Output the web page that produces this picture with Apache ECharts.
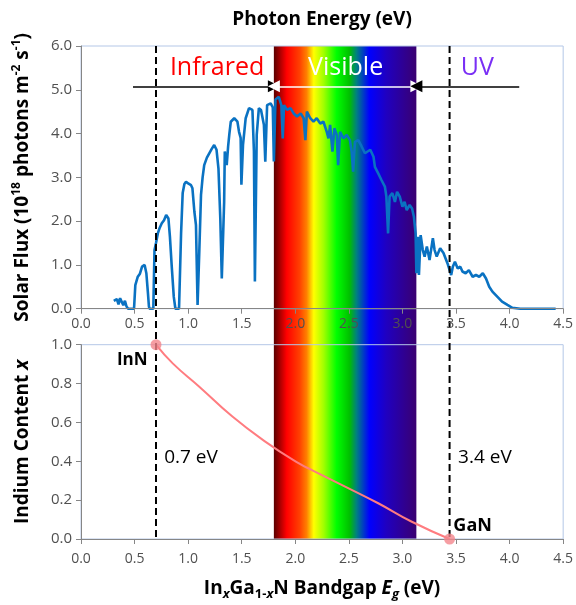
<!DOCTYPE html>
<html><head><meta charset="utf-8">
<script src="https://cdn.jsdelivr.net/npm/echarts@6/dist/echarts.min.js"></script>
<style>html,body{margin:0;padding:0;background:#fff}#c{width:576px;height:605px}</style>
</head><body><div id="c"></div>
<script>
// Solar photon flux spectrum (energy in eV, flux in 1e18 photons m^-2 s^-1)
const fluxE = [0.306,0.32,0.335,0.35,0.365,0.38,0.395,0.41,0.425,0.44,0.495,0.507,0.53,0.55,0.57,0.594,0.61,0.625,0.634,0.64,0.675,0.686,0.70,0.717,0.735,0.754,0.775,0.795,0.816,0.83,0.847,0.866,0.881,0.915,0.934,0.949,0.965,0.98,1.0,1.01,1.027,1.04,1.058,1.073,1.088,1.104,1.12,1.135,1.15,1.175,1.197,1.22,1.243,1.265,1.283,1.3,1.314,1.33,1.336,1.342,1.36,1.373,1.385,1.398,1.43,1.46,1.475,1.49,1.497,1.512,1.537,1.568,1.6,1.614,1.623,1.64,1.66,1.68,1.707,1.72,1.737,1.77,1.79,1.8,1.815,1.846,1.87,1.883,1.895,1.923,1.955,1.985,2.016,2.05,2.078,2.094,2.108,2.14,2.17,2.2,2.233,2.263,2.294,2.31,2.325,2.347,2.365,2.387,2.4,2.418,2.45,2.48,2.51,2.526,2.54,2.557,2.588,2.62,2.65,2.7,2.73,2.743,2.774,2.804,2.836,2.85,2.866,2.88,2.906,2.93,2.95,2.975,3.0,3.02,3.04,3.067,3.09,3.107,3.123,3.13,3.145,3.154,3.17,3.19,3.207,3.228,3.253,3.284,3.3,3.32,3.352,3.383,3.42,3.455,3.47,3.49,3.516,3.54,3.56,3.59,3.62,3.655,3.686,3.717,3.75,3.78,3.81,3.84,3.887,3.93,3.98,4.026,4.1,4.43];
const fluxF = [0.18,0.15,0.22,0.1,0.24,0.2,0.08,0.18,0.05,0,0,0.54,0.73,0.8,0.96,1.0,0.81,0.35,0.05,0,0,1.34,1.5,1.72,1.85,1.95,2.02,2.14,2.06,1.64,0.96,0.27,0,0,1.72,2.64,2.85,2.9,2.86,2.86,2.82,2.75,2.22,1.91,0.085,1.3,2.6,3.0,3.28,3.45,3.55,3.65,3.74,3.63,3.2,2.07,0.69,0.69,2.44,3.59,3.28,3.7,4.0,4.27,4.35,4.27,4.04,3.9,2.83,3.74,4.35,4.58,4.54,3.59,0.62,3.97,4.58,4.54,4.2,3.36,4.65,4.69,4.6,3.36,4.78,4.84,4.65,3.89,4.65,4.54,4.58,4.46,4.39,4.46,4.35,3.85,4.5,4.35,4.27,4.35,4.23,4.27,4.04,3.89,4.2,3.59,4.12,3.97,3.28,4.04,3.89,3.97,3.85,3.59,3.13,3.81,3.85,3.7,3.55,3.63,3.47,3.24,3.09,2.94,2.79,2.56,1.72,2.56,2.64,2.44,2.67,2.56,2.33,2.44,2.25,2.37,2.29,2.1,1.72,0.81,1.64,0.77,1.68,1.34,1.19,1.42,1.11,1.61,1.34,1.19,1.38,1.27,1.04,0.77,0.96,1.07,0.92,0.96,0.85,0.81,0.88,0.73,0.77,0.73,0.81,0.69,0.5,0.39,0.27,0.16,0.085,0.02,0,0];
// InxGa1-xN bandgap vs indium content
const inE = [0.7,0.856,1.104,1.413,1.723,2.03,2.155,2.465,2.774,3.083,3.44];
const inX = [1.0,0.904,0.784,0.63,0.5,0.39,0.355,0.27,0.184,0.09,0];
const endE = [0.7,3.44];
const endX = [1.0,0];
// Annotation values
const bandEdges = [0.7,3.44];
const visibleRange = [1.8,3.13];
const arrowLevel = 5.08;
const irArrowStart = 0.485, uvArrowStart = 4.09;
const xTicks = {min:0,max:4.5,interval:0.5};
const fluxTicks = {min:0,max:6,interval:1};
const inTicks = {min:0,max:1,interval:0.2};

const FF = "'Open Sans', sans-serif";
const fluxData = fluxE.map((e,i)=>[e,fluxF[i]]);
const inData = inE.map((e,i)=>[e,inX[i]]);
const endData = endE.map((e,i)=>[e,endX[i]]);

const axisCommon = {
  axisLine:{show:true,lineStyle:{color:'#868686',width:1}},
  axisTick:{show:true,length:5,lineStyle:{color:'#868686'}},
  splitLine:{show:false},
  z:5
};
const lbl = (m,s)=>({color:'#505050',fontSize:s||14,fontFamily:FF,margin:m,formatter:v=>v.toFixed(1)});

const chart = echarts.init(document.getElementById('c'));
const option = {
  animation:false,
  grid:[
    {left:81,right:10,top:46,height:262.7,show:true,borderColor:'#b4c7e7',borderWidth:1,backgroundColor:'transparent',z:0},
    {left:81,right:10,top:344.7,height:194.3,show:true,borderColor:'#b4c7e7',borderWidth:1,backgroundColor:'transparent',z:0}
  ],
  xAxis:[
    Object.assign({type:'value',gridIndex:0,min:xTicks.min,max:xTicks.max,interval:xTicks.interval,axisLabel:lbl(8)},axisCommon),
    Object.assign({type:'value',gridIndex:1,min:xTicks.min,max:xTicks.max,interval:xTicks.interval,axisLabel:lbl(13),
      name:'{b|In}{si|x}{b|Ga}{s|1-}{si|x}{b|N Bandgap }{bi|E}{si|g}{b| (eV)}',nameLocation:'middle',nameGap:38,
      nameTextStyle:{rich:{
        b:{fontFamily:FF,fontSize:19,fontWeight:'bold',color:'#000',lineHeight:24},
        bi:{fontFamily:FF,fontSize:19,fontWeight:'bold',fontStyle:'italic',color:'#000',lineHeight:24},
        s:{fontFamily:FF,fontSize:13,fontWeight:'bold',color:'#000',lineHeight:14,verticalAlign:'bottom'},
        si:{fontFamily:FF,fontSize:13,fontWeight:'bold',fontStyle:'italic',color:'#000',lineHeight:14,verticalAlign:'bottom'}
      }}},axisCommon)
  ],
  yAxis:[
    Object.assign({type:'value',gridIndex:0,min:fluxTicks.min,max:fluxTicks.max,interval:fluxTicks.interval,axisLabel:lbl(9,15),
      name:'{b|Solar Flux (10}{sup|18}{b| photons m}{sup|-2}{b| s}{sup|-1}{b|)}',nameLocation:'middle',nameGap:46,
      nameTextStyle:{rich:{
        b:{fontFamily:FF,fontSize:19,fontWeight:'bold',color:'#000',lineHeight:24},
        sup:{fontFamily:FF,fontSize:12,fontWeight:'bold',color:'#000',lineHeight:12,verticalAlign:'top'}
      }}},axisCommon),
    Object.assign({type:'value',gridIndex:1,min:inTicks.min,max:inTicks.max,interval:inTicks.interval,axisLabel:lbl(9,15),
      name:'{b|Indium Content }{bi|x}',nameLocation:'middle',nameGap:46,
      nameTextStyle:{rich:{
        b:{fontFamily:FF,fontSize:19,fontWeight:'bold',color:'#000',lineHeight:24},
        bi:{fontFamily:FF,fontSize:19,fontWeight:'bold',fontStyle:'italic',color:'#000',lineHeight:24}
      }}},axisCommon)
  ],
  series:[
    {type:'line',xAxisIndex:0,yAxisIndex:0,data:fluxData,showSymbol:false,symbol:'none',z:3,
     lineStyle:{color:'#0a72c2',width:2.6},
     markLine:{silent:true,symbol:['none','triangle'],symbolSize:12,label:{show:false},z:6,
       data:[
         [{coord:[irArrowStart,arrowLevel],symbol:'none',lineStyle:{color:'#000',width:1.5,type:'solid'}},{coord:[visibleRange[0],arrowLevel],symbol:'triangle'}],
         [{coord:[visibleRange[0],arrowLevel],symbol:'triangle',lineStyle:{color:'#fff',width:1.5,type:'solid'}},{coord:[visibleRange[1],arrowLevel],symbol:'triangle'}],
         [{coord:[uvArrowStart,arrowLevel],symbol:'none',lineStyle:{color:'#000',width:1.5,type:'solid'}},{coord:[visibleRange[1],arrowLevel],symbol:'triangle'}]
       ]}},
    {type:'line',xAxisIndex:1,yAxisIndex:1,data:inData,smooth:0.5,showSymbol:false,symbol:'none',z:3,
     lineStyle:{color:'#ff7c80',width:2}},
    {type:'scatter',xAxisIndex:1,yAxisIndex:1,data:endData,symbolSize:11,z:7,
     itemStyle:{color:'#f4868c'}}
  ]
};
chart.setOption(option);

const P = (g,x,y)=>chart.convertToPixel({gridIndex:g},[x,y]);
const topY = P(0,0,fluxTicks.max)[1];
const botY = P(1,0,inTicks.min)[1];
const vx0 = P(0,visibleRange[0],0)[0], vx1 = P(0,visibleRange[1],0)[0];
const graphics = [];
graphics.push({type:'rect',z:-1,silent:true,shape:{x:vx0,y:topY,width:vx1-vx0,height:botY-topY},
  style:{fill:{type:'linear',x:0,y:0,x2:1,y2:0,colorStops:[
    {offset:0,color:'#5a0000'},{offset:0.09,color:'#ff0000'},{offset:0.18,color:'#ff4000'},
    {offset:0.23,color:'#ff8000'},{offset:0.28,color:'#ffff00'},{offset:0.35,color:'#a0ff00'},
    {offset:0.44,color:'#00ff00'},{offset:0.53,color:'#00c000'},{offset:0.58,color:'#008080'},
    {offset:0.67,color:'#0000ff'},{offset:0.79,color:'#2000c0'},{offset:1,color:'#3a0070'}]}}});
bandEdges.forEach(e=>{
  const x = P(0,e,0)[0];
  graphics.push({type:'line',z:4,silent:true,shape:{x1:x,y1:topY,x2:x,y2:botY},style:{stroke:'#000',lineWidth:2,lineDash:[7,4]}});
});
function txt(g,x,y,text,size,color,weight){
  const p = P(g,x,y);
  graphics.push({type:'text',z:8,silent:true,x:p[0],y:p[1],style:{text:text,fontFamily:FF,fontSize:size,fill:color,fontWeight:weight||'normal',align:'center',verticalAlign:'middle'}});
}
txt(0,1.27,5.5,'Infrared',25,'#ff0000');
txt(0,2.47,5.5,'Visible',25,'#ffffff');
txt(0,3.70,5.5,'UV',25,'#7a2ff5');
txt(1,0.478,0.921,'InN',17,'#000','bold');
txt(1,3.655,0.067,'GaN',18,'#000','bold');
txt(1,1.027,0.417,'0.7 eV',19,'#000');
txt(1,3.77,0.417,'3.4 eV',19,'#000');
const cx = P(0,(xTicks.min+xTicks.max)/2,0)[0];
graphics.push({type:'text',z:8,silent:true,x:cx,y:topY-26,style:{text:'Photon Energy (eV)',fontFamily:FF,fontSize:19,fontWeight:'bold',fill:'#000',align:'center',verticalAlign:'middle'}});
chart.setOption({graphic:graphics});
</script></body></html>
